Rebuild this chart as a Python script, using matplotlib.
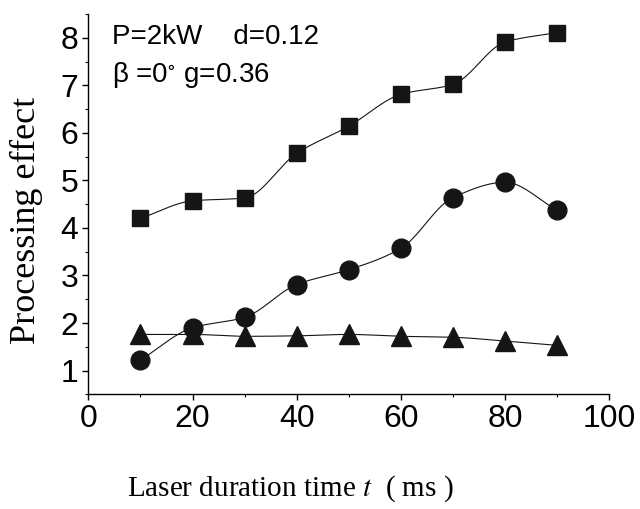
import numpy as np
import matplotlib
matplotlib.use("Agg")
import matplotlib.pyplot as plt
from matplotlib.ticker import MultipleLocator

t_ms = [10, 20, 30, 40, 50, 60, 70, 80, 90]
squares = [4.20, 4.57, 4.63, 5.57, 6.14, 6.81, 7.02, 7.91, 8.11]
circles = [1.22, 1.90, 2.12, 2.81, 3.12, 3.57, 4.64, 4.96, 4.37]
triangles = [1.76, 1.76, 1.72, 1.73, 1.76, 1.72, 1.70, 1.62, 1.53]


def smooth(x, y, n=300):
    # shape-preserving cubic (pchip) through the points, for the drawn curve
    x = np.asarray(x, float)
    y = np.asarray(y, float)
    h = np.diff(x)
    dl = np.diff(y) / h
    m = len(x)
    d = np.zeros(m)
    for i in range(1, m - 1):
        if dl[i - 1] * dl[i] > 0:
            w1 = 2 * h[i] + h[i - 1]
            w2 = h[i] + 2 * h[i - 1]
            d[i] = (w1 + w2) / (w1 / dl[i - 1] + w2 / dl[i])
    d[0] = dl[0]
    d[-1] = dl[-1]
    xs = np.linspace(x[0], x[-1], n)
    k = np.clip(np.searchsorted(x, xs) - 1, 0, m - 2)
    s = (xs - x[k]) / h[k]
    h00 = 2 * s ** 3 - 3 * s ** 2 + 1
    h10 = s ** 3 - 2 * s ** 2 + s
    h01 = -2 * s ** 3 + 3 * s ** 2
    h11 = s ** 3 - s ** 2
    return xs, h00 * y[k] + h10 * h[k] * d[k] + h01 * y[k + 1] + h11 * h[k] * d[k + 1]


plt.rcParams['font.family'] = ['Liberation Sans', 'DejaVu Sans']
plt.rcParams['mathtext.fontset'] = 'stix'

fig = plt.figure(figsize=(6.4, 5.09), dpi=100)
ax = fig.add_axes([0.138, 0.2253, 0.814, 0.7472])

col = '#151515'
for ys, mk, ms in [(squares, 's', 12), (circles, 'o', 13.5), (triangles, '^', 14)]:
    xs, yy = smooth(t_ms, ys)
    ax.plot(xs, yy, color=col, lw=0.8)
    ax.plot(t_ms, ys, linestyle='none', marker=mk, ms=ms, color=col, mec=col)

ax.set_xlim(0, 100)
ax.set_ylim(0.5, 8.5)
ax.xaxis.set_major_locator(MultipleLocator(20))
ax.xaxis.set_minor_locator(MultipleLocator(10))
ax.yaxis.set_minor_locator(MultipleLocator(0.5))
ax.set_yticks(range(1, 9))
ax.spines['top'].set_visible(False)
ax.spines['right'].set_visible(False)
for s in ['left', 'bottom']:
    ax.spines[s].set_linewidth(1.0)
ax.tick_params(which='major', length=4, width=1.0, labelsize=23, direction='out', pad=3)
ax.tick_params(which='minor', length=2.5, width=0.8, direction='out')

ax.text(0.045, 0.94, 'P=2kW    d=0.12', transform=ax.transAxes, fontsize=20, va='center')
ax.text(0.045, 0.84, 'β =0$^{\\circ}$ g=0.36', transform=ax.transAxes, fontsize=20, va='center')

fig.text(0.042, 0.568, 'Processing effect', family='Liberation Serif', fontsize=26,
         rotation=90, ha='center', va='center')
fig.text(0.453, 0.04, 'Laser duration time $t$  ( ms )', family='Liberation Serif',
         fontsize=21, ha='center', va='center')

fig.savefig('out.png', dpi=100)
